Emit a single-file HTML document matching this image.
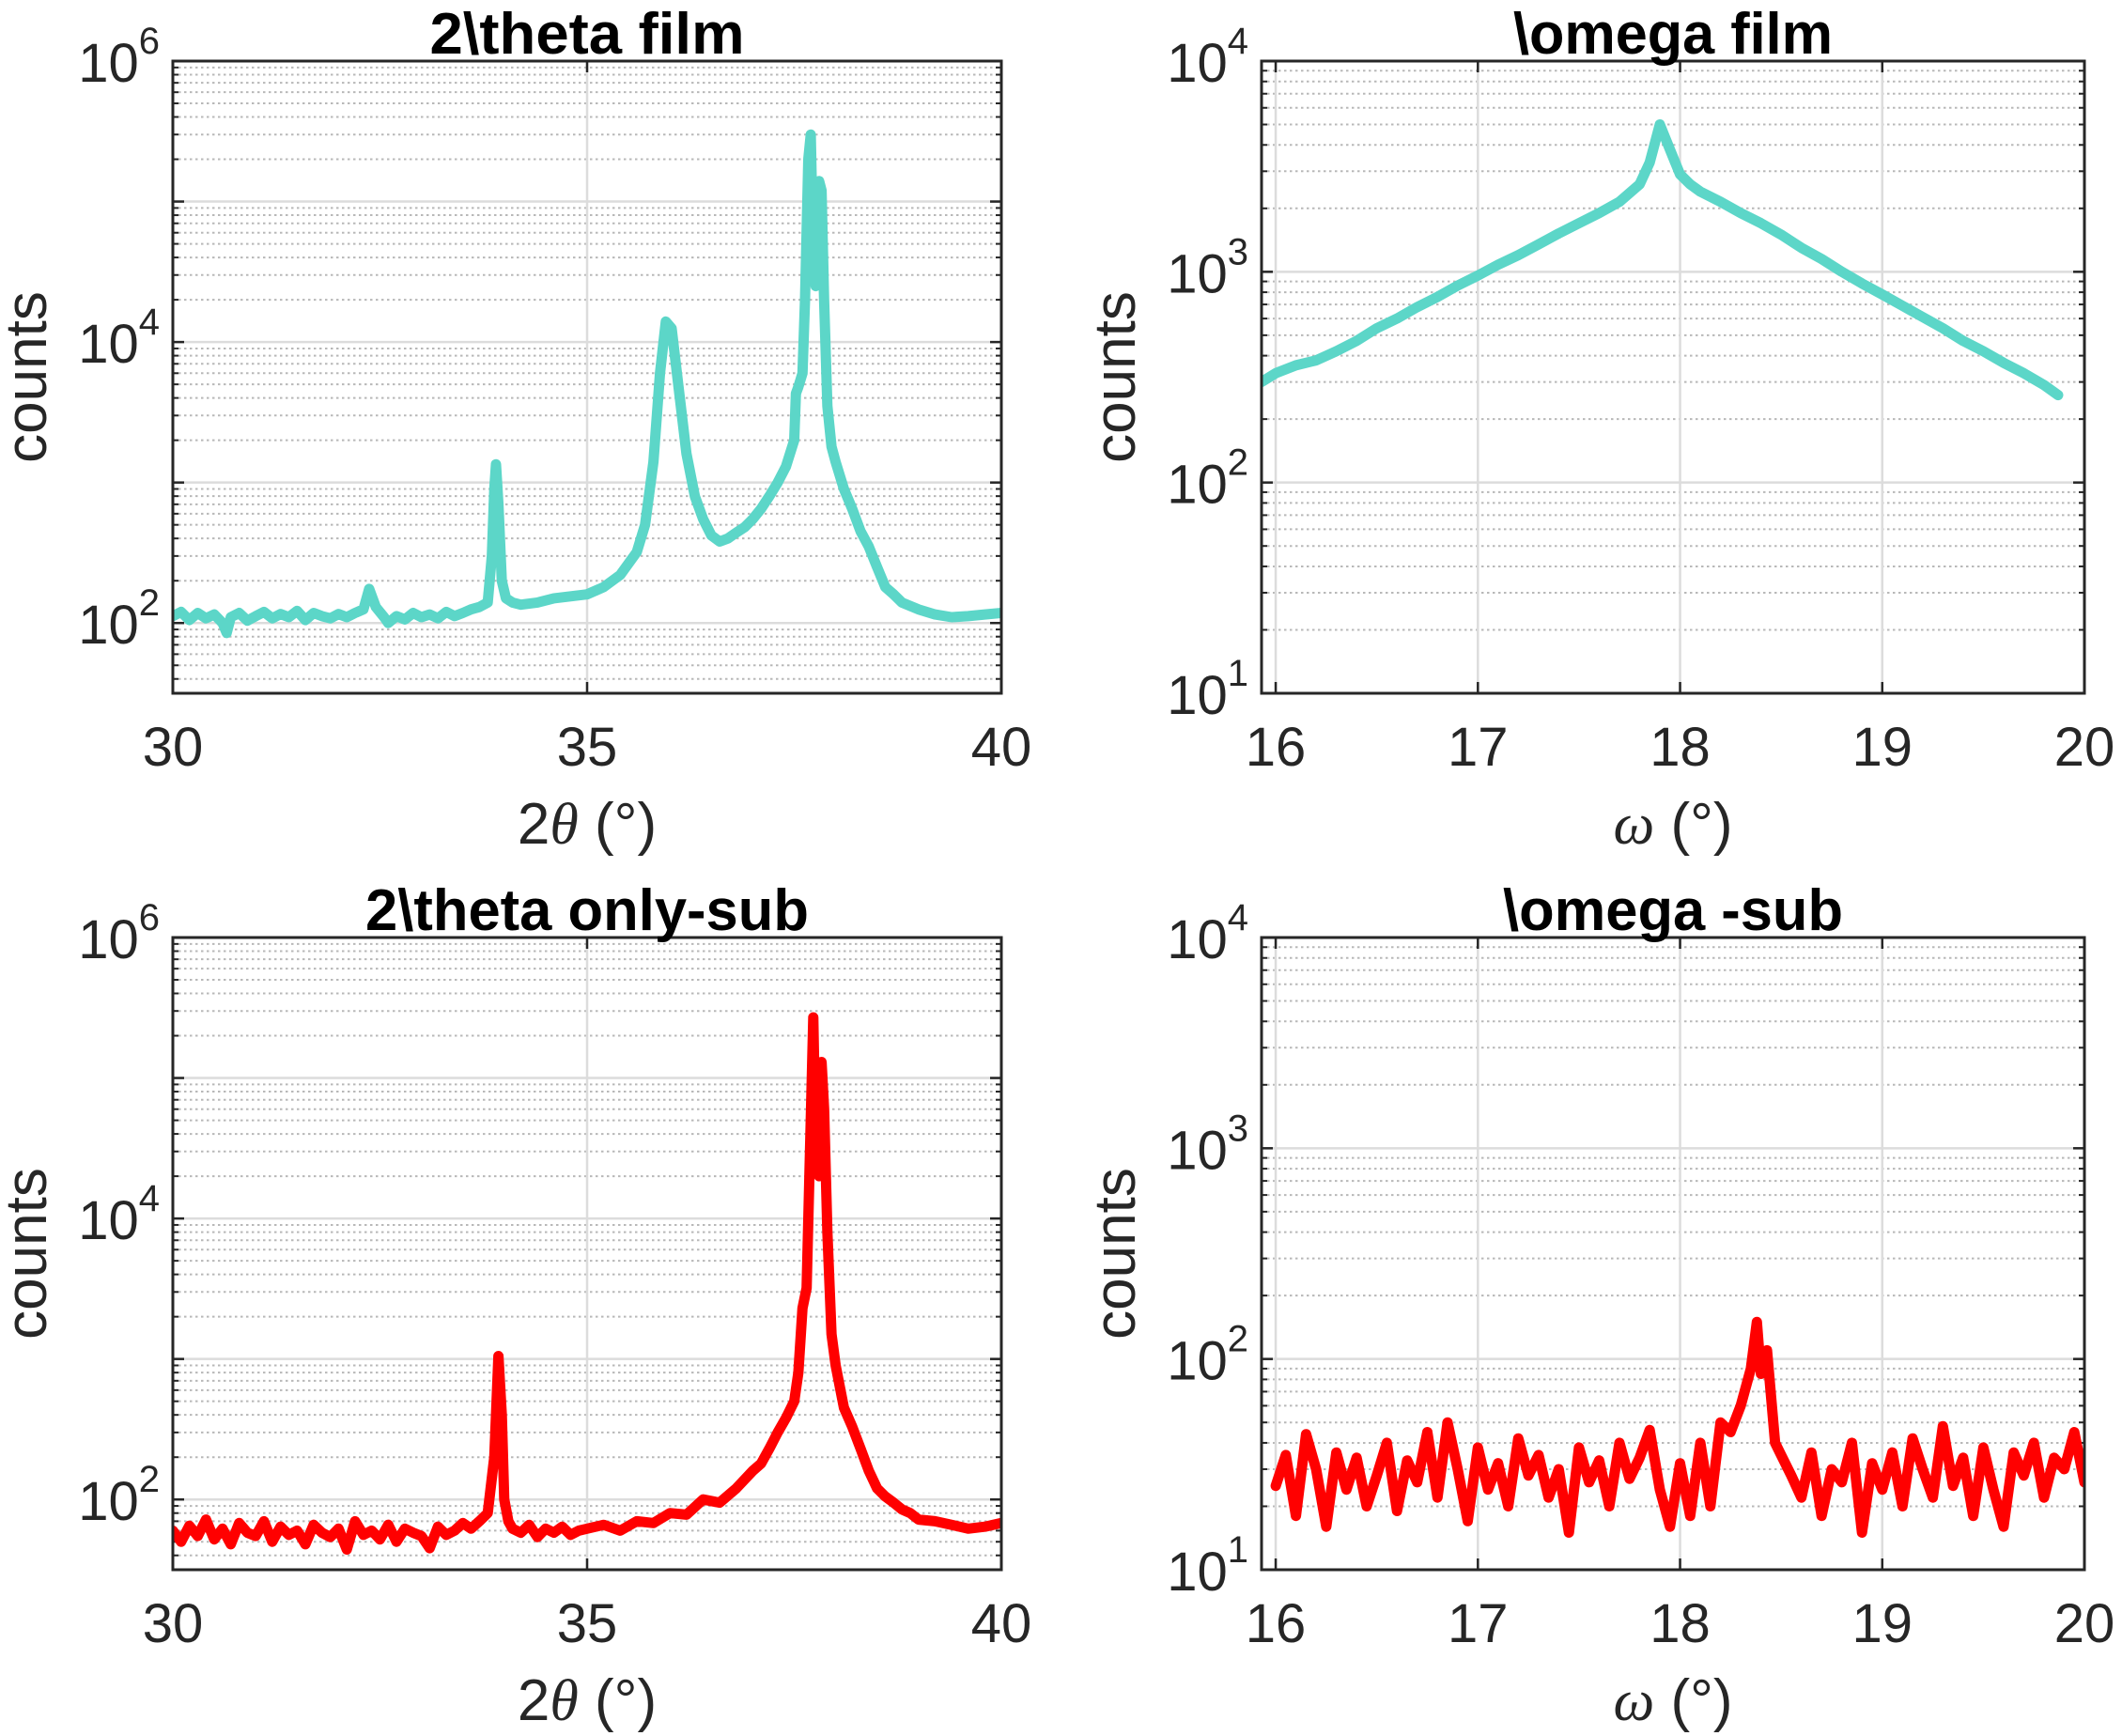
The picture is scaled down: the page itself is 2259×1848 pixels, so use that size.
<!DOCTYPE html>
<html><head><meta charset="utf-8"><style>
html,body{margin:0;padding:0;background:#fff;}
svg{display:block;font-family:"Liberation Sans",Arial,sans-serif;}
</style></head><body>
<svg id="fig" width="2259" height="1848" viewBox="0 0 2259 1848" xmlns="http://www.w3.org/2000/svg"></svg>
<script>
// ---- data (estimated) ----
const filmThetaX = [30,30.1,30.2,30.3,30.4,30.5,30.6,30.65,30.7,30.8,30.9,31,31.1,31.2,31.3,31.4,31.5,31.6,31.7,31.8,31.9,32,32.1,32.2,32.3,32.37,32.45,32.55,32.6,32.7,32.8,32.9,33,33.1,33.2,33.3,33.4,33.5,33.6,33.7,33.8,33.85,33.88,33.9,33.93,33.97,34.02,34.1,34.2,34.4,34.6,34.8,35,35.2,35.4,35.6,35.7,35.8,35.88,35.95,36.02,36.1,36.2,36.3,36.4,36.5,36.6,36.7,36.8,36.9,37,37.1,37.2,37.3,37.4,37.5,37.52,37.55,37.6,37.63,37.67,37.7,37.73,37.76,37.8,37.83,37.86,37.9,37.95,38,38.1,38.2,38.3,38.4,38.5,38.6,38.7,38.8,39,39.2,39.4,39.6,39.8,40];
const filmThetaY = [112,120,105,118,108,115,100,85,110,118,104,112,120,108,116,110,122,105,118,112,108,116,110,118,125,175,130,110,100,112,106,118,110,115,108,120,112,118,125,130,140,300,900,1350,700,200,150,140,135,140,150,155,160,180,220,320,500,1400,6000,14000,12500,5000,1600,800,550,420,380,400,440,480,550,650,800,1000,1300,2000,4300,4800,6000,20000,200000,300000,40000,25000,140000,120000,20000,3500,1800,1400,900,650,450,350,250,180,160,140,125,115,110,112,115,118];
const subThetaX = [30,30.1,30.2,30.3,30.4,30.5,30.6,30.7,30.8,30.9,31,31.1,31.2,31.3,31.4,31.5,31.6,31.7,31.8,31.9,32,32.1,32.2,32.3,32.4,32.5,32.6,32.7,32.8,32.9,33,33.1,33.2,33.3,33.4,33.5,33.6,33.7,33.8,33.88,33.93,33.97,34.0,34.05,34.1,34.2,34.3,34.4,34.5,34.6,34.7,34.8,34.9,35,35.2,35.4,35.6,35.8,36,36.2,36.4,36.6,36.8,37,37.1,37.2,37.3,37.4,37.5,37.55,37.6,37.65,37.7,37.73,37.76,37.8,37.83,37.86,37.9,37.95,38,38.1,38.2,38.3,38.4,38.5,38.6,38.7,38.8,38.9,39,39.2,39.4,39.6,39.8,40];
const subThetaY = [60,50,65,55,72,52,62,48,68,58,55,70,50,64,56,60,48,66,58,54,62,44,70,56,60,52,66,50,62,58,55,45,64,56,60,68,62,70,80,200,1050,400,100,70,62,58,66,54,62,58,64,56,60,62,66,60,70,68,80,78,100,95,120,160,180,230,300,380,500,800,2300,3200,50000,270000,30000,20000,130000,60000,8000,1500,900,450,330,230,160,120,105,95,85,80,72,70,66,62,64,68];
const filmOmegaX = [15.93,16,16.1,16.2,16.3,16.4,16.5,16.6,16.7,16.8,16.9,17,17.1,17.2,17.3,17.4,17.5,17.6,17.7,17.8,17.85,17.9,17.95,18,18.05,18.1,18.2,18.3,18.4,18.5,18.6,18.7,18.8,18.9,19,19.1,19.2,19.3,19.4,19.5,19.6,19.7,19.8,19.87];
const filmOmegaY = [300,330,360,380,420,470,540,600,680,760,860,960,1080,1200,1350,1520,1700,1900,2150,2600,3300,5000,3800,2900,2600,2400,2150,1900,1700,1500,1300,1150,1000,880,780,690,610,540,470,420,370,330,290,260];
const subOmegaX = [16,16.05,16.1,16.15,16.2,16.25,16.3,16.35,16.4,16.45,16.5,16.55,16.6,16.65,16.7,16.75,16.8,16.85,16.9,16.95,17,17.05,17.1,17.15,17.2,17.25,17.3,17.35,17.4,17.45,17.5,17.55,17.6,17.65,17.7,17.75,17.8,17.85,17.9,17.95,18,18.05,18.1,18.15,18.2,18.25,18.3,18.35,18.38,18.4,18.43,18.47,18.5,18.55,18.6,18.65,18.7,18.75,18.8,18.85,18.9,18.95,19,19.05,19.1,19.15,19.2,19.25,19.3,19.35,19.4,19.45,19.5,19.55,19.6,19.65,19.7,19.75,19.8,19.85,19.9,19.95,20];
const subOmegaY = [25,35,18,44,30,16,36,24,34,20,28,40,19,33,26,45,22,50,30,17,38,24,32,20,42,28,35,22,30,15,38,26,33,20,40,27,34,46,24,16,32,18,40,20,50,45,60,90,150,85,110,40,35,28,22,36,18,30,26,40,15,32,24,36,20,42,30,22,48,25,34,18,38,24,16,36,28,40,22,34,30,45,26];
const thetaXTicks = [30,35,40];
const omegaXTicks = [16,17,18,19,20];

const S = 'http://www.w3.org/2000/svg';
const fig = document.getElementById('fig');
function el(tag, attrs, parent){const e=document.createElementNS(S,tag);for(const k in attrs)e.setAttribute(k,attrs[k]);(parent||fig).appendChild(e);return e;}

function panel(cfg){
  const g = el('g',{});
  
  
  const {x0,y0,w,h,xmin,xmax,lmin,lmax} = cfg;
  const X = v => x0 + (v-xmin)/(xmax-xmin)*w;
  const Y = v => y0 + h - (Math.log10(v)-lmin)/(lmax-lmin)*h;
  for(let d=Math.floor(lmin); d<lmax; d++){
    for(let m=2;m<=9;m++){
      const v=m*Math.pow(10,d); const lv=Math.log10(v);
      if(lv<=lmin||lv>=lmax) continue;
      const l=el('line',{x1:x0,x2:x0+w,y1:Y(v),y2:Y(v),stroke:'#b8b8b8','stroke-width':2,'stroke-dasharray':'2.5,3.5'},g);
      
      
      el('line',{x1:x0,x2:x0+6,y1:Y(v),y2:Y(v),stroke:'#262626','stroke-width':2},g);
      el('line',{x1:x0+w-6,x2:x0+w,y1:Y(v),y2:Y(v),stroke:'#262626','stroke-width':2},g);
    }
  }
  for(let d=Math.ceil(lmin); d<=lmax; d++){
    const v=Math.pow(10,d);
    if(d>lmin && d<lmax){
      const l=el('line',{x1:x0,x2:x0+w,y1:Y(v),y2:Y(v),stroke:'#dcdcdc','stroke-width':2.5},g);
      
      
    }
    el('line',{x1:x0,x2:x0+12,y1:Y(v),y2:Y(v),stroke:'#262626','stroke-width':2.5},g);
    el('line',{x1:x0+w-12,x2:x0+w,y1:Y(v),y2:Y(v),stroke:'#262626','stroke-width':2.5},g);
    if(cfg.yLabels.includes(d)){
      const t=el('text',{x:x0-14,y:Y(v)+22,'text-anchor':'end','font-size':58,fill:'#262626'},g);
      
      
      t.textContent='10';
      const sp=el('tspan',{dy:-30,'font-size':40},t); sp.textContent=String(d);
    }
  }
  cfg.xticks.forEach(v=>{
    if(v>xmin && v<xmax){
      const l=el('line',{x1:X(v),x2:X(v),y1:y0,y2:y0+h,stroke:'#dcdcdc','stroke-width':2.5},g);
      
      
    }
    el('line',{x1:X(v),x2:X(v),y1:y0,y2:y0+12,stroke:'#262626','stroke-width':2.5},g);
    el('line',{x1:X(v),x2:X(v),y1:y0+h-12,y2:y0+h,stroke:'#262626','stroke-width':2.5},g);
    const t=el('text',{x:X(v),y:y0+h+77,'text-anchor':'middle','font-size':58,fill:'#262626'},g);
    
    
    t.textContent=String(v);
  });
  const cp=el('clipPath',{id:cfg.name+'-clip'},g);
  el('rect',{x:x0,y:y0,width:w,height:h},cp);
  let d='';
  cfg.xs.forEach((xv,i)=>{d+=(i?'L':'M')+X(xv).toFixed(1)+','+Y(cfg.ys[i]).toFixed(1);});
  const p=el('path',{d:d,fill:'none',stroke:cfg.color,'stroke-width':11,'stroke-linejoin':'round','stroke-linecap':'round','clip-path':'url(#'+cfg.name+'-clip)'},g);
  
  
  const b=el('rect',{x:x0,y:y0,width:w,height:h,fill:'none',stroke:'#262626','stroke-width':3},g);
  
  
  const tt=el('text',{x:x0+w/2,y:y0-8,'text-anchor':'middle','font-size':62,'font-weight':'bold',fill:'#000',textLength:cfg.titleLen,lengthAdjust:'spacingAndGlyphs'},g);
  
  
  tt.textContent=cfg.title;
  const xl=el('text',{x:x0+w/2,y:y0+h+160,'text-anchor':'middle','font-size':62,fill:'#262626'},g);
  
  
  if(cfg.omega){
    const a=el('tspan',{'font-family':'"Liberation Serif",serif','font-style':'italic'},xl); a.textContent='ω';
    const b2=el('tspan',{},xl); b2.textContent=' (°)';
  } else {
    const a0=el('tspan',{},xl); a0.textContent='2';
    const a=el('tspan',{'font-family':'"Liberation Serif",serif','font-style':'italic'},xl); a.textContent='θ';
    const b2=el('tspan',{},xl); b2.textContent=' (°)';
  }
  const cx=x0-135, cy=y0+h/2;
  const yl=el('text',{x:cx,y:cy,'text-anchor':'middle','font-size':62,fill:'#262626',transform:'rotate(-90 '+cx+' '+cy+')'},g);
  
  
  yl.textContent='counts';
}

panel({name:'panel-2theta-film',x0:184,y0:65,w:882,h:673,xmin:30,xmax:40,lmin:1.5,lmax:6,xticks:thetaXTicks,yLabels:[2,4,6],xs:filmThetaX,ys:filmThetaY,color:'#5cd6c8',title:'2\\theta film',titleLen:335});
panel({name:'panel-omega-film',x0:1343,y0:65,w:876,h:673,xmin:15.93,xmax:20,lmin:1,lmax:4,xticks:omegaXTicks,yLabels:[1,2,3,4],xs:filmOmegaX,ys:filmOmegaY,color:'#5cd6c8',title:'\\omega film',titleLen:340,omega:true});
panel({name:'panel-2theta-sub',x0:184,y0:998,w:882,h:673,xmin:30,xmax:40,lmin:1.5,lmax:6,xticks:thetaXTicks,yLabels:[2,4,6],xs:subThetaX,ys:subThetaY,color:'#ff0000',title:'2\\theta only-sub',titleLen:472});
panel({name:'panel-omega-sub',x0:1343,y0:998,w:876,h:673,xmin:15.93,xmax:20,lmin:1,lmax:4,xticks:omegaXTicks,yLabels:[1,2,3,4],xs:subOmegaX,ys:subOmegaY,color:'#ff0000',title:'\\omega -sub',titleLen:362,omega:true});
</script>
</body></html>
